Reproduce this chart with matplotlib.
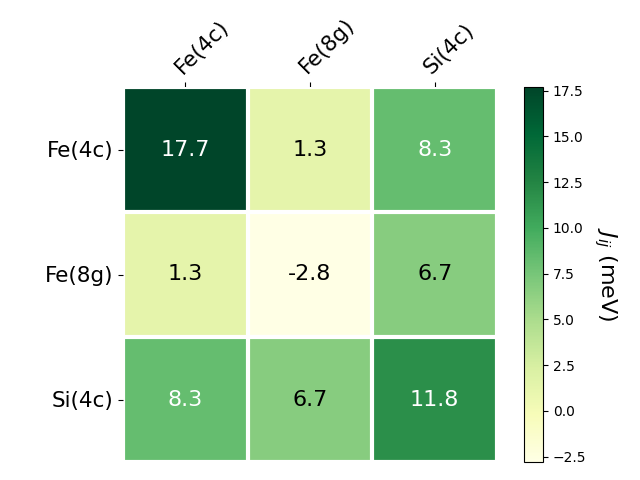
import matplotlib
matplotlib.use("Agg")
import matplotlib.pyplot as plt
import numpy as np

sites = ["Fe(4c)", "Fe(8g)", "Si(4c)"]
jij = np.array([
    [17.7, 1.3, 8.3],
    [1.3, -2.8, 6.7],
    [8.3, 6.7, 11.8],
])

fig = plt.figure(figsize=(6.4, 4.8), dpi=100)
ax = fig.add_axes([123 / 640, 18 / 480, 374 / 640, 375 / 480])
cax = fig.add_axes([524 / 640, 18 / 480, 19 / 640, 375 / 480])

im = ax.imshow(jij, cmap="YlGn", aspect="auto")
cbar = fig.colorbar(im, cax=cax)
cbar.set_label("$J_{ij}$ (meV)", rotation=-90, va="bottom", fontsize=16)

ax.set_xticks(np.arange(len(sites)), labels=sites, fontsize=15.5)
ax.set_yticks(np.arange(len(sites)), labels=sites, fontsize=15.5)
ax.tick_params(top=True, bottom=False, labeltop=True, labelbottom=False)
plt.setp(ax.get_xticklabels(), rotation=45, ha="left", rotation_mode="anchor")

ax.spines[:].set_visible(False)
ax.set_xticks(np.arange(len(sites) + 1) - 0.5, minor=True)
ax.set_yticks(np.arange(len(sites) + 1) - 0.5, minor=True)
ax.grid(which="minor", color="w", linestyle="-", linewidth=3)
ax.tick_params(which="minor", bottom=False, left=False, top=False)

threshold = (jij.max() + jij.min()) / 2
for i in range(jij.shape[0]):
    for j in range(jij.shape[1]):
        color = "white" if jij[i, j] > threshold else "black"
        ax.text(j, i, f"{jij[i, j]:.1f}", ha="center", va="center",
                color=color, fontsize=16)

fig.savefig("out.png", dpi=100)
